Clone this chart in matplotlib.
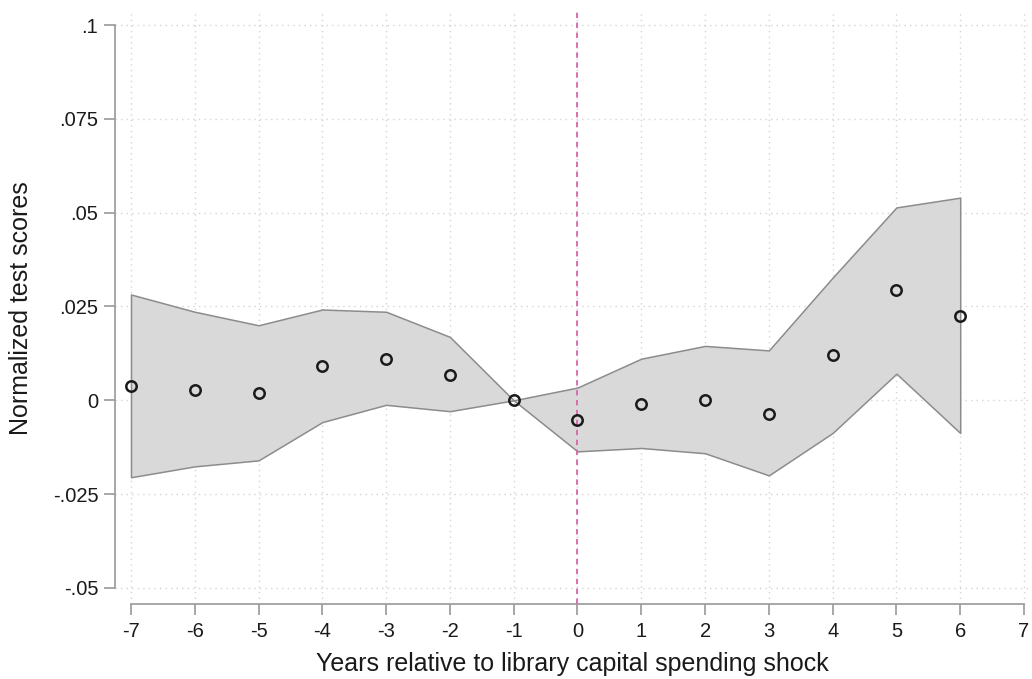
import numpy as np
import matplotlib.pyplot as plt

# event-study estimates
years = [-7, -6, -5, -4, -3, -2, -1, 0, 1, 2, 3, 4, 5, 6]
coef = [0.0038, 0.0028, 0.0020, 0.0091, 0.0110, 0.0068, 0.0,
        -0.0052, -0.0009, 0.0002, -0.0036, 0.0121, 0.0293, 0.0226]
ci_hi = [0.0282, 0.0236, 0.0200, 0.0242, 0.0236, 0.0169, 0.0,
         0.0034, 0.0111, 0.0145, 0.0133, 0.0327, 0.0514, 0.0540]
ci_lo = [-0.0205, -0.0176, -0.0160, -0.0058, -0.0012, -0.0029, 0.0,
         -0.0136, -0.0127, -0.0141, -0.0200, -0.0087, 0.0071, -0.0087]

xticks = list(range(-7, 8))
yticks = [-0.05, -0.025, 0, 0.025, 0.05, 0.075, 0.1]
ylabels = ['-.05', '-.025', '0', '.025', '.05', '.075', '.1']

plt.rcParams['font.family'] = ['Liberation Sans', 'DejaVu Sans']

fig = plt.figure(figsize=(10.32, 6.79), dpi=100)
ax = fig.add_axes([115 / 1032, 1 - 604 / 679, 915 / 1032, 592 / 679])

ax.fill_between(years, ci_lo, ci_hi, facecolor='#d9d9d9', edgecolor='#8c8c8c',
                linewidth=1.1, zorder=2)
ax.plot(years, coef, 'o', markerfacecolor='none', markeredgecolor='#1a1a1a',
        markersize=7.5, markeredgewidth=1.8, zorder=4)
ax.axvline(0, color='#d866a4', linestyle=(0, (3, 2.5)), linewidth=1.3, zorder=3)

ax.set_xlim(-7 - 16 / 63.8, 7 + 6 / 63.8)
ax.set_ylim(-0.05 - 16 / 3747, 0.1 + 13 / 3747)

ax.set_xticks(xticks)
ax.set_xticklabels([str(v) for v in xticks])
ax.set_yticks(yticks)
ax.set_yticklabels(ylabels)

ax.grid(True, color='#d4d4d4', linestyle=(0, (1, 3)), linewidth=1.0, zorder=0)
ax.set_axisbelow(True)

for s in ['top', 'right']:
    ax.spines[s].set_visible(False)
ax.spines['left'].set_bounds(-0.05, 0.1)
ax.spines['bottom'].set_bounds(-7, 7)
for s in ['left', 'bottom']:
    ax.spines[s].set_color('#a0a0a0')
    ax.spines[s].set_linewidth(1.3)

ax.tick_params(axis='both', colors='#a0a0a0', length=8, width=1.3,
               labelcolor='#1a1a1a', labelsize=14.5)
ax.tick_params(axis='y', pad=4)
ax.tick_params(axis='x', pad=5)

ax.set_xlabel('Years relative to library capital spending shock', fontsize=18,
              color='#1a1a1a', labelpad=8)
ax.set_ylabel('Normalized test scores', fontsize=18, color='#1a1a1a')
ax.yaxis.set_label_coords(-0.090, 0.5)

fig.savefig('out.png', dpi=100, facecolor='white')
